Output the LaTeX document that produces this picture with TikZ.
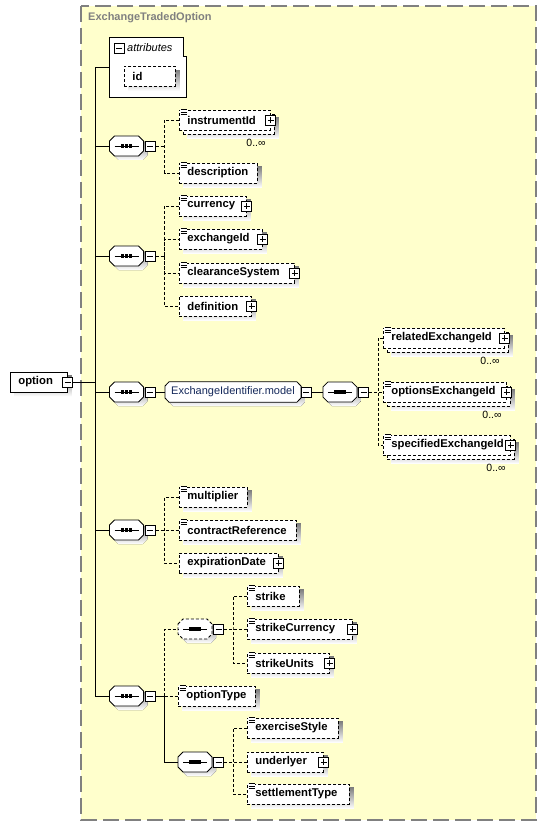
\documentclass[tikz,border=0pt]{standalone}
\usepackage{fontspec}
\setmainfont{Liberation Sans}
\usetikzlibrary{positioning,calc}
\definecolor{panel}{HTML}{FFFFCC}
\definecolor{shade}{HTML}{C0C0C0}
\definecolor{frame}{HTML}{808080}
\definecolor{modelblue}{HTML}{14285A}
\pgfdeclarelayer{background}
\pgfdeclarelayer{shadowlayer}
\pgfsetlayers{background,shadowlayer,main}

\begin{document}
\begin{tikzpicture}[x=1pt,y=-1pt,
  elem/.style={draw, fill=white, line width=0.8pt, dash pattern=on 3pt off 2pt, minimum height=20pt, inner xsep=8pt, inner ysep=0pt, anchor=west, font=\fontsize{11.3}{13}\selectfont\bfseries},
  pbox/.style={draw, solid, fill=white, line width=0.8pt, minimum size=10pt, inner sep=0pt,
    path picture={\draw[line width=0.8pt] ([xshift=2pt]path picture bounding box.west) -- ([xshift=-2pt]path picture bounding box.east);
      \draw[line width=0.8pt] ([yshift=2pt]path picture bounding box.south) -- ([yshift=-2pt]path picture bounding box.north);}},
  mbox/.style={draw, solid, fill=white, line width=0.8pt, minimum size=10pt, inner sep=0pt,
    path picture={\draw[line width=0.8pt] ([xshift=2pt]path picture bounding box.west) -- ([xshift=-2pt]path picture bounding box.east);}},
  seqnode/.style={minimum width=34pt, minimum height=20pt, inner sep=0pt},
  seqshape/.pic={
    \fill[shade] (-13,-1) -- (-8,-6) -- (16,-6) -- (21,-1) -- (21,9) -- (16,14) -- (-8,14) -- (-13,9) -- cycle;
    \draw[fill=white, line width=0.8pt] (-17,-5) -- (-12,-10) -- (12,-10) -- (17,-5) -- (17,5) -- (12,10) -- (-12,10) -- (-17,5) -- cycle;
    \draw[solid, line width=0.8pt] (-12,0) -- (12,0);
    \foreach \d in {-4,0,4} \fill (\d-1.6,-1.6) rectangle (\d+1.6,1.6);
  },
  grp/.style={minimum height=20pt, inner xsep=6pt, inner ysep=0pt, text=modelblue, font=\fontsize{11}{13}\selectfont},
  mult/.style={inner sep=0pt, font=\fontsize{10.5}{12}\selectfont},
  con/.style={line width=0.8pt},
  opt/.style={con, dash pattern=on 3pt off 2pt}
]
\useasboundingbox (0,0) rectangle (547,826);

% outer complex type
\begin{pgfonlayer}{background}
\draw[frame, fill=panel, line width=1.2pt, dash pattern=on 16pt off 6pt] (81,6) rectangle (536,820);
\end{pgfonlayer}
\node[anchor=west, inner sep=0pt, text=frame, font=\fontsize{11}{13}\selectfont\bfseries] (title) at (88,18) {ExchangeTradedOption};

% root element
\node[elem, solid, minimum width=57] (opt) at (10,382) {\makebox[41pt][l]{option}};
\node[mbox] (opt-m) at (opt.east) {};

% attributes
\node[minimum width=76pt, minimum height=59pt, inner sep=0pt] (attr) at (148,67.5) {};
\begin{pgfonlayer}{shadowlayer}
\draw[con, fill=white] (attr.south west) -- (attr.north west) -- ($(attr.north east)+(-3,0)$) -- ($(attr.north east)+(-3,19)$) -- ($(attr.north east)+(0,19)$) -- (attr.south east) -- cycle;
\end{pgfonlayer}
\node[mbox] (attr-m) at (119,48.5) {};
\node[anchor=west, inner sep=0pt, font=\fontsize{11}{13}\selectfont\itshape] (attr-t) at (127,48) {attributes};
\node[elem, minimum width=51] (id) at (124,76.5) {\makebox[35pt][l]{id}};

% sequences on the trunk
\node[seqnode] (s1) at (126.5,146) {};
\node[seqnode] (s2) at (126.5,256) {};
\node[seqnode] (s3) at (126.5,392) {};
\node[seqnode] (s5) at (126.5,530) {};
\node[seqnode] (s6) at (126.5,696) {};

% group reference
\node[grp, anchor=west] (model) at (165,392) {ExchangeIdentifier.model};
\node[mbox, right=0pt of model] (model-m) {};
\node[seqnode, right=11pt of model-m] (s4) {};

% nested sequences
\node[seqnode] (s7) at (195,629) {};
\node[seqnode] (s8) at (195,762) {};

\begin{pgfonlayer}{shadowlayer}
\foreach \s in {s1,s2,s3,s4,s5,s6,s8}
  \pic at (\s) {seqshape};
\pic[dash pattern=on 3pt off 2pt] at (s7) {seqshape};
\fill[shade, transform canvas={xshift=4pt, yshift=-4pt}] ($(model.west)+(0,-6)$) -- ($(model.north west)+(4,0)$) -- ($(model.north east)+(-4,0)$) -- ($(model.east)+(0,-6)$) -- ($(model.east)+(0,6)$) -- ($(model.south east)+(-4,0)$) -- ($(model.south west)+(4,0)$) -- ($(model.west)+(0,6)$) -- cycle;
\draw[con, fill=white] ($(model.west)+(0,-6)$) -- ($(model.north west)+(4,0)$) -- ($(model.north east)+(-4,0)$) -- ($(model.east)+(0,-6)$) -- ($(model.east)+(0,6)$) -- ($(model.south east)+(-4,0)$) -- ($(model.south west)+(4,0)$) -- ($(model.west)+(0,6)$) -- cycle;
\end{pgfonlayer}

\foreach \s in {s1,s2,s3,s4,s5,s6,s7,s8}
  \node[mbox, right=1pt of \s] (\s-m) {};

% elements with 0..unbounded: back copies first
\foreach \n/\x/\y/\w in {instr/179/120/91, related/383/338/121, optex/383/392/123, spec/383/445/127}
  \node[elem, minimum width=\w] (\n-b) at (\x+4,\y+4) {};
\foreach \n/\x/\y/\w/\t in {instr/179/120/91/instrumentId, related/383/338/121/relatedExchangeId,
    optex/383/392/123/optionsExchangeId, spec/383/445/127/specifiedExchangeId}
  \node[elem, minimum width=\w] (\n) at (\x,\y) {\makebox[\dimexpr\w pt-16pt\relax][l]{\t}};

% single elements
\foreach \n/\x/\y/\w/\t in {desc/179/173/78/description, currency/179/206/67/currency,
    exch/179/239/83/exchangeId, clear/179/273/115/clearanceSystem, defn/179/306/72/definition,
    mult/179/497/68/multiplier, contract/179/530/117/contractReference, expir/179/563/99/expirationDate,
    strike/247/596/52/strike, strikecur/247/629/105/strikeCurrency, strikeunits/247/663/82/strikeUnits,
    opttype/178/696/77/optionType, exstyle/247/728/91/exerciseStyle, underlyer/247/762/76/underlyer,
    settle/247/794/102/settlementType}
  \node[elem, minimum width=\w] (\n) at (\x,\y) {\makebox[\dimexpr\w pt-16pt\relax][l]{\t}};

% shadows
\begin{pgfonlayer}{shadowlayer}
\foreach \n in {opt,id,instr-b,related-b,optex-b,spec-b,desc,currency,exch,clear,defn,mult,contract,expir,
    strike,strikecur,strikeunits,opttype,exstyle,underlyer,settle}
  \fill[shade] ($(\n.south west)+(4,4)$) rectangle ($(\n.north east)+(4,4)$);
\end{pgfonlayer}

% expand boxes
\foreach \n in {instr,currency,exch,clear,defn,related,optex,spec,expir,strikecur,strikeunits,underlyer}
  \node[pbox] (\n-p) at (\n.east) {};

% simple content marks
\foreach \n in {instr,desc,currency,exch,clear,related,optex,spec,mult,contract,strike,strikecur,strikeunits,opttype,exstyle,settle} {
  \fill[white] ($(\n.north west)+(1,-1)$) rectangle ($(\n.north west)+(8,6)$);
  \foreach \k in {0,2.5,5}
    \draw[line width=0.9pt] ($(\n.north west)+(1.5,\k)$) -- ++(6,0);
}

% occurrence labels
\foreach \n in {instr,related,optex,spec}
  \node[mult, anchor=north east] (\n-n) at ($(\n-b.south east)+(-9,5)$) {0..∞};

% trunk
\coordinate (trunk) at (95,382);
\draw[con] (opt-m.east) -- (trunk);
\draw[con] (trunk |- attr.west) -- (trunk |- s6.west);
\foreach \s in {attr,s1,s2,s3,s5,s6}
  \draw[con] (trunk |- \s.west) -- (\s.west);

% first sequence
\coordinate (b1) at ($(s1-m.east)+(9,0)$);
\draw[opt] (s1-m.east) -- (b1);
\draw[opt] (instr.west) -| (b1) |- (desc.west);

% second sequence
\coordinate (b2) at ($(s2-m.east)+(9,0)$);
\draw[opt] (s2-m.east) -- (b2);
\draw[opt] (currency.west) -| (b2) |- (defn.west);
\draw[opt] (b2) |- (exch.west);
\draw[opt] (b2) |- (clear.west);

% exchange identifiers
\draw[con] (s3-m.east) -- (model.west);
\draw[con] (model-m.east) -- (s4.west);
\coordinate (b4) at ($(s4-m.east)+(9,0)$);
\draw[opt] (s4-m.east) -- (optex.west);
\draw[opt] (related.west) -| (b4) |- (spec.west);

% contract terms
\coordinate (b5) at ($(s5-m.east)+(9,0)$);
\draw[opt] (s5-m.east) -- (contract.west);
\draw[opt] (mult.west) -| (b5) |- (expir.west);

% option terms
\coordinate (b6) at ($(s6-m.east)+(9,0)$);
\draw[con] (s6-m.east) -- (b6);
\draw[opt] (b6) |- (s7.west);
\draw[opt] (b6) -- (opttype.west);
\draw[con] (b6) |- (s8.west);

\coordinate (b7) at ($(s7-m.east)+(9,0)$);
\draw[opt] (s7-m.east) -- (strikecur.west);
\draw[opt] (strike.west) -| (b7) |- (strikeunits.west);

\coordinate (b8) at ($(s8-m.east)+(9,0)$);
\draw[opt] (s8-m.east) -- (underlyer.west);
\draw[opt] (exstyle.west) -| (b8) |- (settle.west);
\end{tikzpicture}
\end{document}
